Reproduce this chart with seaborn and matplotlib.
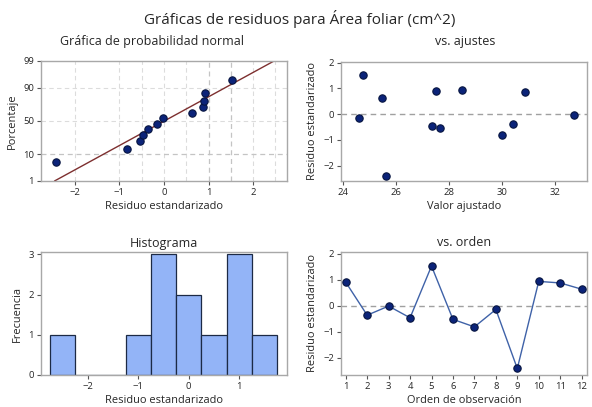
import numpy as np
import pandas as pd
import matplotlib
matplotlib.use("Agg")
import matplotlib.pyplot as plt
import seaborn as sns
from statistics import NormalDist

# ---- data ----
orden = [1, 2, 3, 4, 5, 6, 7, 8, 9, 10, 11, 12]
residuos = [0.90, -0.37, -0.02, -0.47, 1.52, -0.53, -0.82, -0.15, -2.42, 0.93, 0.87, 0.63]
ajustados = [27.5, 30.4, 32.7, 27.35, 24.75, 27.65, 30.0, 24.6, 25.6, 28.5, 30.85, 25.45]
prob_ticks = [1, 10, 50, 90, 99]
hist_edges = [-2.75, -2.25, -1.75, -1.25, -0.75, -0.25, 0.25, 0.75, 1.25, 1.75]

sns.set_style("white")
plt.rcParams['font.family'] = ['Open Sans', 'DejaVu Sans']

W, H = 592, 407
fig = plt.figure(figsize=(W / 100, H / 100), dpi=100)


def ax_px(left, top, right, bottom):
    return fig.add_axes([left / W, 1 - bottom / H, (right - left) / W, (bottom - top) / H])


MARK = "#0b2379"
MEDGE = "#061440"
SPINE = "#a8a8a8"
GRIDC = "#dcdcdc"
TICKFS = 6.8
LABFS = 7.9
TITFS = 9.0


def style(ax):
    for s in ax.spines.values():
        s.set_color(SPINE)
        s.set_linewidth(1.0)
    ax.tick_params(axis="both", which="major", labelsize=TICKFS, length=3, width=0.8,
                   color="#555555", pad=2, direction="out", bottom=True, left=True)


df = pd.DataFrame({"orden": orden, "residuo": residuos, "ajuste": ajustados})
nd = NormalDist()

# ---------- normal probability plot ----------
ax1 = ax_px(41, 61, 287, 181)
srt = np.sort(np.array(residuos))
n = len(srt)
pct = (np.arange(1, n + 1) - 0.3) / (n + 0.4)
zvals = np.array([nd.inv_cdf(p) for p in pct])
zlo, zhi = nd.inv_cdf(0.01), nd.inv_cdf(0.99)
mu, sd = np.mean(srt), np.std(srt, ddof=1)
zl = np.linspace(zlo, zhi, 50)
line_df = pd.DataFrame({"x": mu + sd * zl, "z": zl})
for xv in [-2, -1, -0.5, 0, 0.5, 2, 2.5]:
    ax1.axvline(xv, color=GRIDC, ls=(0, (4, 3)), lw=0.8, zorder=0)
for xv in [1, 1.5]:
    ax1.axvline(xv, color="#c4c4c4", ls=(0, (4, 3)), lw=0.9, zorder=0)
for pv in [50, 90]:
    ax1.axhline(nd.inv_cdf(pv / 100), color=GRIDC, ls=(0, (4, 3)), lw=0.8, zorder=0)
ax1.axhline(nd.inv_cdf(0.10), color="#c4c4c4", ls=(0, (4, 3)), lw=0.9, zorder=0)
sns.lineplot(data=line_df, x="x", y="z", ax=ax1, color="#7d2f2f", lw=1.0, sort=False,
             estimator=None, zorder=2)
sns.scatterplot(x=srt, y=zvals, ax=ax1, color=MARK, edgecolor=MEDGE, linewidth=0.8,
                s=28, zorder=3)
ax1.set_xlim(-2.76, 2.76)
ax1.set_ylim(zlo, zhi)
ax1.set_yticks([nd.inv_cdf(p / 100) for p in prob_ticks])
ax1.set_yticklabels([str(p) for p in prob_ticks])
ax1.set_xticks([-2, -1, 0, 1, 2])
ax1.set_xlabel("Residuo estandarizado", fontsize=LABFS, labelpad=3)
ax1.set_ylabel("Porcentaje", fontsize=LABFS, labelpad=4)
style(ax1)

# ---------- vs. ajustes ----------
ax2 = ax_px(341, 62, 587, 181)
ax2.axhline(0, color="#a0a0a0", ls=(0, (4, 3)), lw=1.0, zorder=0)
sns.scatterplot(data=df, x="ajuste", y="residuo", ax=ax2, color=MARK, edgecolor=MEDGE,
                linewidth=0.8, s=28, zorder=3)
ax2.set_xlim(23.91, 33.21)
ax2.set_ylim(-2.6, 2.02)
ax2.set_xticks([24, 26, 28, 30, 32])
ax2.set_yticks([-2, -1, 0, 1, 2])
ax2.set_xlabel("Valor ajustado", fontsize=LABFS, labelpad=3)
ax2.set_ylabel("Residuo estandarizado", fontsize=LABFS, labelpad=4)
style(ax2)

# ---------- histogram ----------
ax3 = ax_px(41, 252, 287, 375)
sns.histplot(x=residuos, bins=hist_edges, ax=ax3, color="#93b4f7", edgecolor="#1c2a45",
             linewidth=0.9, alpha=1.0)
ax3.set_xlim(-2.93, 1.95)
ax3.set_ylim(0, 3.06)
ax3.set_xticks([-2, -1, 0, 1])
ax3.set_yticks([0, 1, 2, 3])
ax3.set_xlabel("Residuo estandarizado", fontsize=LABFS, labelpad=3)
ax3.set_ylabel("Frecuencia", fontsize=LABFS, labelpad=4)
style(ax3)

# ---------- vs. orden ----------
ax4 = ax_px(341, 252, 587, 375)
ax4.axhline(0, color="#a0a0a0", ls=(0, (4, 3)), lw=1.0, zorder=0)
sns.lineplot(data=df, x="orden", y="residuo", ax=ax4, color="#3f62a8", lw=1.0, zorder=2)
sns.scatterplot(data=df, x="orden", y="residuo", ax=ax4, color=MARK, edgecolor=MEDGE,
                linewidth=0.8, s=28, zorder=3)
ax4.set_xlim(0.78, 12.25)
ax4.set_ylim(-2.67, 2.06)
ax4.set_xticks(orden)
ax4.set_yticks([-2, -1, 0, 1, 2])
ax4.set_xlabel("Orden de observación", fontsize=LABFS, labelpad=3)
ax4.set_ylabel("Residuo estandarizado", fontsize=LABFS, labelpad=4)
style(ax4)

# ---------- titles ----------
fig.text(300 / W, 1 - 19 / H, "Gráficas de residuos para Área foliar (cm^2)",
         ha="center", va="center", fontsize=11)
fig.text(152 / W, 1 - 42 / H, "Gráfica de probabilidad normal", ha="center", va="center",
         fontsize=TITFS)
fig.text(465 / W, 1 - 42 / H, "vs. ajustes", ha="center", va="center", fontsize=TITFS)
fig.text(164 / W, 1 - 244 / H, "Histograma", ha="center", va="center", fontsize=TITFS)
fig.text(464 / W, 1 - 243 / H, "vs. orden", ha="center", va="center", fontsize=TITFS)

fig.savefig("out.png", dpi=100, facecolor="white")
